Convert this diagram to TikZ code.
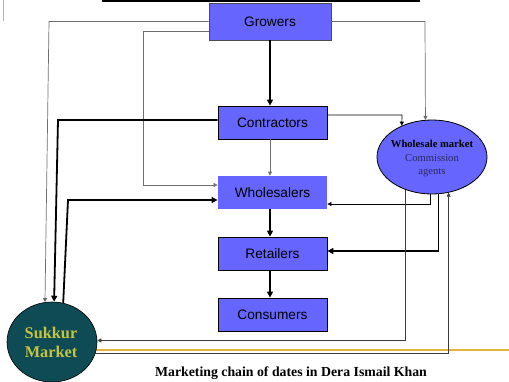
\documentclass[tikz,border=0pt]{standalone}
\usepackage{fontspec}
\setmainfont{Liberation Serif}
\newfontfamily\arialfont{Liberation Sans}
\usetikzlibrary{arrows.meta,shapes.geometric}
\definecolor{boxblue}{RGB}{102,102,255}
\definecolor{sukteal}{RGB}{14,75,85}
\definecolor{slidegold}{RGB}{226,180,60}
\definecolor{sukyellow}{RGB}{196,196,64}
\definecolor{agentcol}{RGB}{40,40,90}
\definecolor{linegray}{RGB}{110,110,110}
\definecolor{linedark}{RGB}{60,60,60}
\begin{document}
\begin{tikzpicture}[x=1pt,y=-1pt,
  box/.style={rectangle, fill=boxblue, draw=black, line width=0.8pt,
    minimum width=109pt, minimum height=33pt, inner sep=0pt,
    font=\arialfont\fontsize{13.7}{16}\selectfont},
  thinline/.style={line width=0.7pt, -{Triangle[length=4pt,width=4pt]}},
  thickline/.style={line width=1.8pt, -{Triangle[length=6pt,width=6pt]}},
  market/.style={ellipse, fill=boxblue, draw=black, line width=0.8pt, inner sep=0pt},
  sukstyle/.style={ellipse, fill=sukteal, draw=black, line width=0.6pt, inner sep=0pt}]
\useasboundingbox (0,0) rectangle (509,381);
% slide decoration
\fill[black] (102,0) rectangle (420,2.3);
\draw[slidegold, line width=1pt] (3,0) -- (3,21);
\draw[slidegold, line width=2pt] (96,350) -- (509,350);
% nodes
\node[box, minimum width=122pt, minimum height=37pt, draw=black!70] (growers) at (270,21.5) {Growers};
\node[box] (contr) at (272.5,122.5) {Contractors};
\node[box, draw=none] (whole) at (272.5,192.5) {Wholesalers};
\node[box] (retail) at (272.5,253.5) {Retailers};
\node[box] (cons) at (272.5,314.5) {Consumers};
\node[market, minimum width=110pt, minimum height=74pt] (wm) at (432,157) {};
\node[align=center, font=\fontsize{10.6}{13.5}\selectfont] (wmtext) at (432,158.5)
  {\textbf{Wholesale market}\\ \textcolor{agentcol}{Commission}\\ \textcolor{agentcol}{agents}};
\node[sukstyle, minimum width=90pt, minimum height=80pt] (suk) at (52,342) {};
\node[align=center, text=sukyellow, font=\bfseries\fontsize{16.3}{19.5}\selectfont] (suktext) at (51,342.5) {Sukkur\\Market};
\node[font=\bfseries\fontsize{13.8}{16}\selectfont] (cap) at (291,373.5) {Marketing chain of dates in Dera Ismail Khan};
% connectors
\draw[thinline, draw=linegray] (growers.west) -- (49,21.5) -- (suk.100);
\draw[thinline, draw=linegray] (growers.west |- 0,31) -- (143,31) -- (143,185) -- (whole.west |- 0,185);
\draw[thickline] (growers.south -| 270,0) -- (contr.north -| 270,0);
\draw[thinline, draw=linegray] (growers.east) -- (425,21.5) -- (wm.100.8);
\draw[thickline] (contr.west |- 0,120) -- (58,120) -- (suk.87);
\draw[thinline] (contr.east |- 0,115) -- (402,115) -- (wm.134);
\draw[thinline, draw=linegray] (contr.south -| 270,0) -- (whole.north -| 270,0);
\draw[thickline] (whole.south -| 270,0) -- (retail.north -| 270,0);
\draw[thickline] (retail.south -| 270,0) -- (cons.north -| 270,0);
\draw[thickline] (suk.74) -- (68,200) -- (whole.west |- 0,200);
\draw[thinline] (wm.267) |- (whole.east |- 0,204);
\draw[thickline] (wm.280.8) |- (retail.east |- 0,251);
\draw[thinline, draw=linedark] (wm.231.4) |- (suk.2.9);
\draw[thinline, draw=linedark] (suk.345.7) -| (wm.295.8);
\end{tikzpicture}
\end{document}
